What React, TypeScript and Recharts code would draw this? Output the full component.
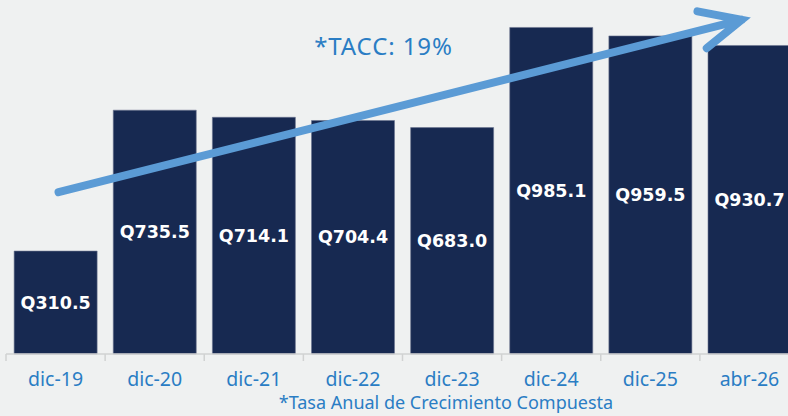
import React from 'react';
import { BarChart, Bar, XAxis, YAxis, LabelList, ReferenceLine } from 'recharts';

const categories = ['dic-19', 'dic-20', 'dic-21', 'dic-22', 'dic-23', 'dic-24', 'dic-25', 'abr-26'];
const values = [310.5, 735.5, 714.1, 704.4, 683.0, 985.1, 959.5, 930.7];
const valueLabels = ['Q310.5', 'Q735.5', 'Q714.1', 'Q704.4', 'Q683.0', 'Q985.1', 'Q959.5', 'Q930.7'];
const title = '*TACC: 19%';
const footnote = '*Tasa Anual de Crecimiento Compuesta';
const trendStart = { x: 'dic-19', y: 488 };
const trendEnd = { x: 'abr-26', y: 1014 };

const data = categories.map((c, i) => ({ cat: c, value: values[i], label: valueLabels[i] }));

const CHART_W = 800;
const CHART_H = 416;
const MARGIN = { top: 22.5, right: 1, left: 6, bottom: 32 };
const BAND = (CHART_W - MARGIN.left - MARGIN.right) / categories.length;
const BLUE_TEXT = '#2a7dc4';
const ARROW = '#5b9bd5';
const BAR = '#172951';
const BG = '#eff1f1';

const Tick = (props: any) => {
  const { x, y, payload } = props;
  const lx = x - BAND / 2;
  return (
    <g>
      <line x1={lx} x2={lx} y1={y - 7} y2={y} stroke="#d0d2d2" strokeWidth={1.5} />
      <text x={x} y={y + 25} textAnchor="middle" fill={BLUE_TEXT} fontFamily="'Noto Sans', sans-serif" fontSize={19.5}>
        {payload.value}
      </text>
    </g>
  );
};

const ArrowShape = (props: any) => {
  const { x1, y1 } = props;
  let { x2, y2 } = props;
  const ang = Math.atan2(y1 - y2, x1 - x2);
  // pull back so the mitred point lands on the target
  x2 = x2 + 8 * Math.cos(ang);
  y2 = y2 + 8 * Math.sin(ang);
  const len = 45;
  const spread = (25 * Math.PI) / 180;
  const ax = x2 + len * Math.cos(ang + spread);
  const ay = y2 + len * Math.sin(ang + spread);
  const bx = x2 + len * Math.cos(ang - spread);
  const by = y2 + len * Math.sin(ang - spread);
  return (
    <g>
      <path
        d={`M${x1 + 3},${y1} L${x2},${y2} M${ax},${ay} L${x2},${y2} L${bx},${by}`}
        stroke={ARROW}
        strokeWidth={8}
        strokeLinecap="round"
        strokeLinejoin="miter"
        fill="none"
      />
    </g>
  );
};

export default function App() {
  return (
    <div style={{ position: 'absolute', left: 0, top: 0, width: 788, height: 416, overflow: 'hidden', background: BG }}>
      <BarChart width={CHART_W} height={CHART_H} data={data} margin={MARGIN} barCategoryGap="8.2%">
        <XAxis
          dataKey="cat"
          axisLine={{ stroke: '#d0d2d2', strokeWidth: 1.5 }}
          tickLine={false}
          tickSize={7}
          tickMargin={0}
          height={30}
          interval={0}
          tick={<Tick />}
        />
        <YAxis hide domain={[0, 1000]} />
        <Bar dataKey="value" fill={BAR} stroke="#6b7690" strokeWidth={0.6} isAnimationActive={false}>
          <LabelList
            dataKey="label"
            position="center"
            fill="#ffffff"
            fontFamily="'DejaVu Sans', sans-serif"
            fontWeight="bold"
            fontSize={17.5}
          />
        </Bar>
        <ReferenceLine
          segment={[trendStart, trendEnd]}
          ifOverflow="visible"
          stroke={ARROW}
          shape={ArrowShape}
        />
      </BarChart>
      <div
        style={{
          position: 'absolute',
          left: 0,
          width: 767,
          top: 30,
          textAlign: 'center',
          color: BLUE_TEXT,
          fontFamily: "'Noto Sans', sans-serif",
          fontSize: 24,
          letterSpacing: 0.9,
          lineHeight: '32px',
        }}
      >
        {title}
      </div>
      <div
        style={{
          position: 'absolute',
          left: 0,
          width: 892,
          top: 395,
          textAlign: 'center',
          color: BLUE_TEXT,
          fontFamily: "'Noto Sans', sans-serif",
          fontSize: 18,
          lineHeight: '14px',
          whiteSpace: 'nowrap',
        }}
      >
        {footnote}
      </div>
    </div>
  );
}
